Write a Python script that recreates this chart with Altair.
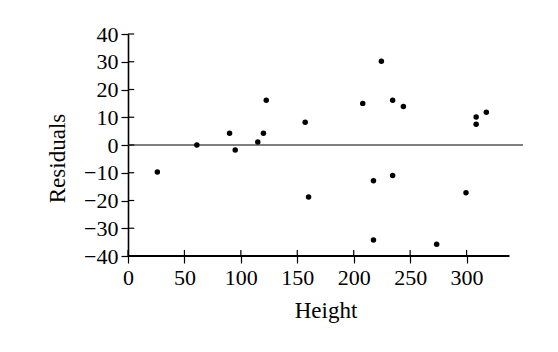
import altair as alt
import pandas as pd

heights = [26, 61, 90, 95, 115, 120, 122.5, 157, 160, 208, 224.5, 234.5, 244, 217.5, 234.5, 217.5, 273.5, 299.5, 308.5, 308.5, 317.5]
residuals = [-9.7, 0, 4.2, -1.8, 1.1, 4.2, 16.1, 8.2, -18.7, 15.0, 30.2, 16.1, 13.9, -12.9, -11.0, -34.2, -35.8, -17.2, 10.1, 7.5, 11.8]

x_ticks = [0, 50, 100, 150, 200, 250, 300]
y_ticks = [-40, -30, -20, -10, 0, 10, 20, 30, 40]
x_axis_end = [338]
zero_line_end = [350]

df = pd.DataFrame({"Height": heights, "Residuals": residuals})
FONT = "Liberation Serif"

xscale = alt.Scale(domain=[0, 350], nice=False, zero=False)
yscale = alt.Scale(domain=[-40, 40], nice=False)

XAX = alt.Axis(values=x_ticks, domain=False, grid=False, tickSize=7,
               tickColor="black", tickWidth=1.2, labelPadding=4,
               labelFlush=False, labelOverlap=False, labelBound=False,
               labelFont=FONT, labelFontSize=22, labelColor="black",
               titleFont=FONT, titleFontSize=23, titleFontWeight="normal",
               titleColor="black", titleBaseline="alphabetic", titleY=61)
YAX = alt.Axis(values=y_ticks, domain=True, domainColor="black", domainWidth=1.6,
               grid=False, tickSize=7, tickColor="black", tickWidth=1.2,
               labelPadding=3, labelFlush=False, labelOverlap=False,
               labelBound=False, labelFont=FONT, labelFontSize=22,
               labelColor="black", format="d",
               titleFont=FONT, titleFontSize=23, titleFontWeight="normal",
               titleColor="black", titleBaseline="alphabetic",
               titleX=-64, titleY=124, titleAngle=-90)

def X(field):
    return alt.X(field, type="quantitative", scale=xscale, axis=XAX, title="Height")

def Y(field):
    return alt.Y(field, type="quantitative", scale=yscale, axis=YAX, title="Residuals")

points = alt.Chart(df).mark_circle(size=30, color="black", opacity=1).encode(
    x=X("Height"), y=Y("Residuals")
)

zero_df = pd.DataFrame({"x0": [0], "x1": zero_line_end, "y": [0]})
zero_line = alt.Chart(zero_df).mark_rule(color="#555555", strokeWidth=1.3).encode(
    x=X("x0"), x2="x1:Q", y=Y("y")
)

xaxis_df = pd.DataFrame({"x0": [0], "x1": x_axis_end, "y": [-40]})
x_axis_line = alt.Chart(xaxis_df).mark_rule(color="black", strokeWidth=1.8).encode(
    x=X("x0"), x2="x1:Q", y=Y("y")
)

# inward halves of the crossing tick marks
xt_df = pd.DataFrame({"t": x_ticks, "y0": [-40] * len(x_ticks), "y1": [-37.8] * len(x_ticks)})
x_inner_ticks = alt.Chart(xt_df).mark_rule(color="black", strokeWidth=1.2).encode(
    x=X("t"), y=Y("y0"), y2="y1:Q"
)

yt_df = pd.DataFrame({"t": y_ticks, "x0": [0] * len(y_ticks), "x1": [5.5] * len(y_ticks)})
y_inner_ticks = alt.Chart(yt_df).mark_rule(color="black", strokeWidth=1.2).encode(
    y=Y("t"), x=X("x0"), x2="x1:Q"
)

chart = alt.layer(zero_line, x_axis_line, x_inner_ticks, y_inner_ticks, points).properties(
    width=395, height=222,
    autosize=alt.AutoSizeParams(type="none"),
    padding={"left": 128, "top": 34, "right": 35, "bottom": 96},
    background="white",
).configure_view(stroke=None)

chart.save("out.html", embed_options={"renderer": "svg", "actions": False})
